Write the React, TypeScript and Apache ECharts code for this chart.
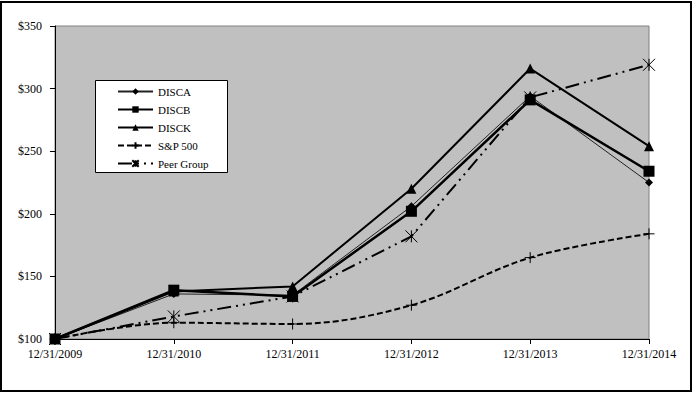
import React, { useEffect, useRef } from "react";
import * as echarts from "echarts";

const dates = ["12/31/2009", "12/31/2010", "12/31/2011", "12/31/2012", "12/31/2013", "12/31/2014"];
const disca = [100, 136, 135, 206, 294, 225];
const discb = [100, 139, 134, 202, 291, 234];
const disck = [100, 138, 142, 220, 316, 254];
const sp500 = [100, 113, 112, 127, 165, 184];
const peer = [100, 118, 134, 182, 293, 319];
const yTicks = { min: 100, max: 350, interval: 50 };

const FONT = "'Liberation Serif', 'Times New Roman', serif";
const PLUS = "path://M0,5 L10,5 M5,0 L5,10";
const STAR = "path://M0,0 L10,10 M10,0 L0,10 M5,0 L5,10";

export default function App() {
  const ref = useRef<HTMLDivElement>(null);
  useEffect(() => {
    document.body.style.margin = "0";
    const chart = echarts.init(ref.current!, null, { renderer: "svg" });
    chart.setOption({
      animation: false,
      textStyle: { fontFamily: FONT, color: "#000" },
      grid: {
        left: 55,
        right: 45,
        top: 26,
        bottom: 54,
        show: true,
        backgroundColor: "#C0C0C0",
        borderColor: "#808080",
        borderWidth: 1,
      },
      graphic: [
        {
          type: "rect",
          z: 0,
          silent: true,
          shape: { x: 1, y: 2, width: 690, height: 389 },
          style: { fill: "none", stroke: "#000", lineWidth: 2 },
        },
        {
          type: "rect",
          z: 10,
          silent: true,
          shape: { x: 95.5, y: 80.5, width: 132, height: 92 },
          style: { fill: "#fff", stroke: "#000", lineWidth: 1 },
        },
      ],
      legend: {
        z: 20,
        orient: "vertical",
        left: 117,
        top: 86,
        padding: 0,
        itemWidth: 35,
        itemHeight: 8,
        itemGap: 7,
        textStyle: { fontFamily: FONT, fontSize: 11, color: "#000" },
        data: ["DISCA", "DISCB", "DISCK", "S&P 500", "Peer Group"],
      },
      xAxis: {
        type: "category",
        data: dates,
        boundaryGap: false,
        axisLine: { lineStyle: { color: "#000", width: 1 } },
        axisTick: { show: true, length: 5, alignWithLabel: true, lineStyle: { color: "#000" } },
        axisLabel: { color: "#000", fontFamily: FONT, fontSize: 12, margin: 9 },
        splitLine: { show: false },
      },
      yAxis: {
        type: "value",
        min: yTicks.min,
        max: yTicks.max,
        interval: yTicks.interval,
        axisLine: { show: true, lineStyle: { color: "#000", width: 1 } },
        axisTick: { show: true, length: 5, lineStyle: { color: "#000" } },
        axisLabel: { color: "#000", fontFamily: FONT, fontSize: 12, margin: 13, formatter: (v: number) => "$" + v },
        splitLine: { show: false },
      },
      series: [
        {
          name: "DISCA",
          type: "line",
          data: disca,
          symbol: "diamond",
          symbolSize: 8,
          lineStyle: { color: "#222", width: 1 },
          itemStyle: { color: "#000" },
        },
        {
          name: "DISCB",
          type: "line",
          data: discb,
          symbol: "rect",
          symbolSize: 11,
          lineStyle: { color: "#000", width: 2.5 },
          itemStyle: { color: "#000" },
        },
        {
          name: "DISCK",
          type: "line",
          data: disck,
          symbol: "triangle",
          symbolSize: 10,
          lineStyle: { color: "#000", width: 2 },
          itemStyle: { color: "#000" },
        },
        {
          name: "S&P 500",
          type: "line",
          data: sp500,
          smooth: 0.35,
          symbol: PLUS,
          symbolSize: 11,
          lineStyle: { color: "#000", width: 2, type: [6, 3] },
          itemStyle: { color: "#000", borderColor: "#000", borderWidth: 1 },
        },
        {
          name: "Peer Group",
          type: "line",
          data: peer,
          symbol: STAR,
          symbolSize: 12,
          lineStyle: { color: "#000", width: 2, type: [14, 5, 2, 5, 2, 5] },
          itemStyle: { color: "#000", borderColor: "#000", borderWidth: 1 },
        },
      ],
    });
    return () => chart.dispose();
  }, []);
  return <div ref={ref} style={{ width: 694, height: 393 }} />;
}
